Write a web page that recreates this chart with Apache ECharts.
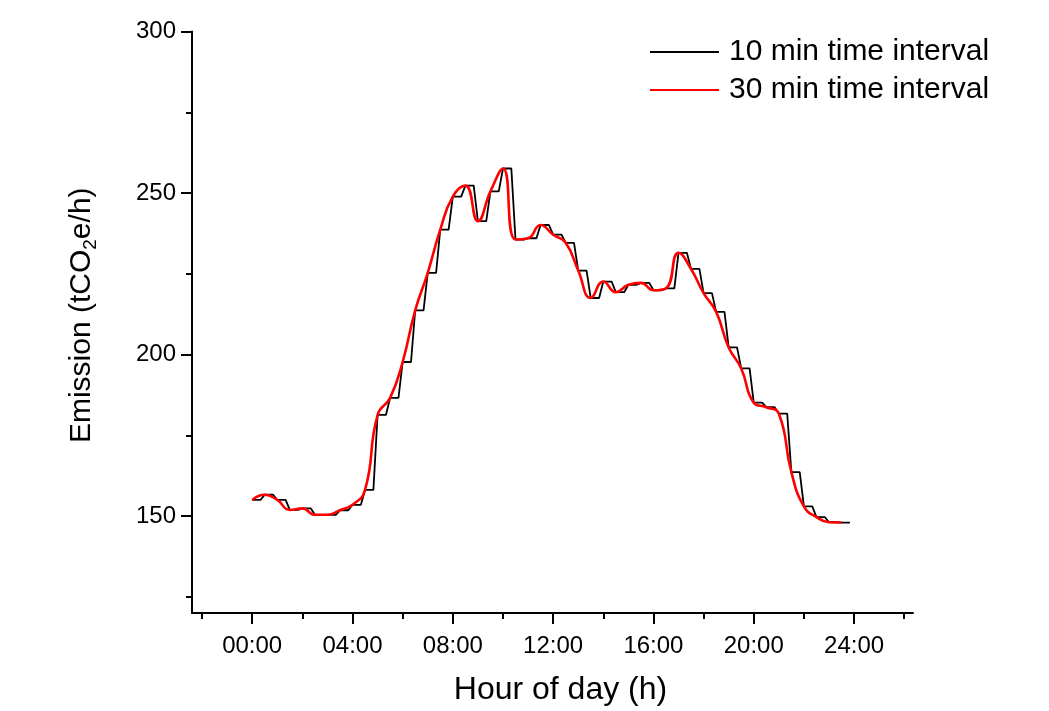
<!DOCTYPE html>
<html>
<head>
<meta charset="utf-8">
<script src="https://cdn.jsdelivr.net/npm/echarts@6/dist/echarts.min.js"></script>
<style>
html,body{margin:0;padding:0;background:#fff;}
#chart{width:1049px;height:711px;}
</style>
</head>
<body>
<div id="chart"></div>
<script>
// Emission at 10-minute resolution (tCO2e/h), 00:00 .. 23:50
const emission10 = [
  155.0,155.0,155.0,156.6,156.6,156.6,
  155.0,155.0,155.0,151.9,151.9,151.9,
  152.4,152.4,152.4,150.4,150.4,150.4,
  150.4,150.4,150.4,151.8,151.8,151.8,
  153.5,153.5,153.5,158.1,158.1,158.1,
  181.3,181.3,181.3,186.6,186.6,186.6,
  197.7,197.7,197.7,213.7,213.7,213.7,
  225.3,225.3,225.3,238.7,238.7,238.7,
  248.9,248.9,248.9,252.3,252.3,252.3,
  241.3,241.3,241.3,250.5,250.5,250.5,
  257.6,257.6,257.6,235.6,235.6,235.6,
  236.0,236.0,236.0,240.1,240.1,240.1,
  237.1,237.1,237.1,234.6,234.6,234.6,
  226.0,226.0,226.0,217.5,217.5,217.5,
  222.6,222.6,222.6,219.3,219.3,219.3,
  221.6,221.6,221.6,222.2,222.2,222.2,
  219.9,219.9,219.9,220.5,220.5,220.5,
  231.5,231.5,231.5,226.5,226.5,226.5,
  219.0,219.0,219.0,213.2,213.2,213.2,
  202.2,202.2,202.2,195.7,195.7,195.7,
  185.1,185.1,185.1,183.7,183.7,183.7,
  181.7,181.7,181.7,163.6,163.6,163.6,
  153.0,153.0,153.0,149.7,149.7,149.7,
  148.1,148.1,148.1,148.0,148.0,148.0
];
// Emission at 30-minute resolution (tCO2e/h), 00:00 .. 23:30
const emission30 = [
  155.0,156.6,155.0,151.9,152.4,150.4,150.4,151.8,
  153.5,158.1,181.3,186.6,197.7,213.7,225.3,238.7,
  248.9,252.3,241.3,250.5,257.6,235.6,236.0,240.1,
  237.1,234.6,226.0,217.5,222.6,219.3,221.6,222.2,
  219.9,220.5,231.5,226.5,219.0,213.2,202.2,195.7,
  185.1,183.7,181.7,163.6,153.0,149.7,148.1,148.0
];
const xMajorTicks = [0, 4, 8, 12, 16, 20, 24];
const xMinorTicks = [-2, 2, 6, 10, 14, 18, 22, 26];
const yMajorTicks = [150, 200, 250, 300];
const yMinorTicks = [125, 175, 225, 275];
const seriesNames = ['10 min time interval', '30 min time interval'];

const data10 = emission10.map((v, i) => [i * 10 / 60, v]);
const data30 = emission30.map((v, i) => [i * 30 / 60, v]);

const FONT = 'Arial, "Liberation Sans", sans-serif';
const chart = echarts.init(document.getElementById('chart'), null, {renderer: 'canvas'});

const xRange = {min: -2.4, max: 26.35};
const yRange = {min: 120, max: 300};

chart.setOption({
  backgroundColor: '#ffffff',
  animation: false,
  grid: {left: 192, top: 31.5, right: 136, bottom: 97, containLabel: false},
  legend: {
    orient: 'vertical',
    left: 650,
    top: 37,
    padding: 0,
    itemWidth: 69,
    itemHeight: 2,
    itemGap: 8,
    icon: 'rect',
    textStyle: {fontFamily: FONT, fontSize: 30, color: '#000', lineHeight: 30, padding: [0, 0, 0, 5]},
    data: [
      {name: seriesNames[0], icon: 'rect'},
      {name: seriesNames[1], icon: 'rect'}
    ]
  },
  xAxis: [
    {
      type: 'value', position: 'bottom', min: xRange.min, max: xRange.max,
      name: 'Hour of day (h)', nameLocation: 'middle', nameGap: 61,
      nameTextStyle: {fontFamily: FONT, fontSize: 32, color: '#000', padding: [0, 0, 0, 16]},
      axisLine: {show: true, onZero: false, lineStyle: {color: '#000', width: 2}},
      axisTick: {show: true, inside: false, length: 11, lineStyle: {color: '#000', width: 2}, customValues: xMajorTicks},
      axisLabel: {show: true, margin: 21, fontFamily: FONT, fontSize: 24, color: '#000', customValues: xMajorTicks,
        formatter: v => (v < 10 ? '0' : '') + v + ':00'},
      splitLine: {show: false}
    },
    {
      type: 'value', position: 'bottom', min: xRange.min, max: xRange.max,
      axisLine: {show: false, onZero: false},
      axisTick: {show: true, inside: false, length: 6, lineStyle: {color: '#000', width: 2}, customValues: xMinorTicks},
      axisLabel: {show: false},
      splitLine: {show: false}
    }
  ],
  yAxis: [
    {
      type: 'value', position: 'left', min: yRange.min, max: yRange.max,
      name: 'Emission (tCO{sub|2}e/h)', nameLocation: 'middle', nameGap: 92, nameRotate: 90,
      nameTextStyle: {fontFamily: FONT, fontSize: 30, color: '#000', lineHeight: 36, padding: [0, 0, 0, 14],
        rich: {sub: {fontFamily: FONT, fontSize: 19, lineHeight: 19, verticalAlign: 'bottom', color: '#000'}}},
      axisLine: {show: true, onZero: false, lineStyle: {color: '#000', width: 2}},
      axisTick: {show: true, inside: false, length: 11, lineStyle: {color: '#000', width: 2}, customValues: yMajorTicks},
      axisLabel: {show: true, margin: 16, fontFamily: FONT, fontSize: 24, color: '#000', customValues: yMajorTicks},
      splitLine: {show: false}
    },
    {
      type: 'value', position: 'left', min: yRange.min, max: yRange.max,
      axisLine: {show: false, onZero: false},
      axisTick: {show: true, inside: false, length: 6, lineStyle: {color: '#000', width: 2}, customValues: yMinorTicks},
      axisLabel: {show: false},
      splitLine: {show: false}
    }
  ],
  series: [
    {
      name: seriesNames[0], type: 'line', xAxisIndex: 0, yAxisIndex: 0,
      data: data10, symbol: 'none', showSymbol: false, smooth: false,
      lineStyle: {color: '#000000', width: 1.8}, itemStyle: {color: '#000000'}, z: 2
    },
    {
      name: seriesNames[1], type: 'line', xAxisIndex: 0, yAxisIndex: 0,
      data: data30, symbol: 'none', showSymbol: false, smooth: 0.5,
      lineStyle: {color: '#ff0000', width: 2.6}, itemStyle: {color: '#ff0000'}, z: 3
    }
  ]
});
</script>
</body>
</html>
